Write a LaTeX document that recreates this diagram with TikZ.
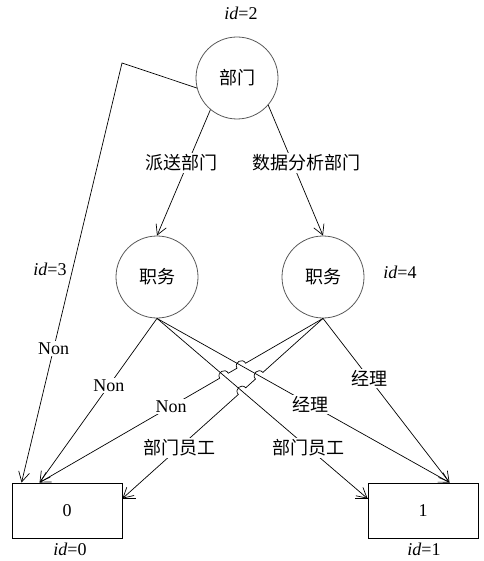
\documentclass[tikz,border=0pt]{standalone}
\usepackage{fontspec}
\setmainfont{Liberation Serif}
\newfontfamily\cjk{Noto Sans CJK SC}
\usetikzlibrary{arrows.meta,calc,intersections}
\begin{document}
\begin{tikzpicture}[x=1pt,y=-1pt,
  font=\fontsize{18pt}{20pt}\selectfont,
  circ/.style={circle,draw=black!65,line width=0.8pt,minimum size=82pt,inner sep=0pt,font={\cjk\fontsize{18pt}{20pt}\selectfont}},
  leaf/.style={rectangle,draw,line width=0.9pt,minimum width=110pt,minimum height=55pt,inner sep=0pt},
  conn/.style={line width=0.7pt},
  arr/.style={conn,-{Straight Barb[length=10pt,width=11pt]}},
  lab/.style={fill=white,inner sep=1.5pt},
  cjklab/.style={lab,font={\cjk\fontsize{18pt}{20pt}\selectfont}},
  hop/.style={bend right=90,looseness=1.7}]
\useasboundingbox (0,0) rectangle (483,561);
% nodes
\node[circ] (T) at (237,78) {部门};
\node[circ] (A) at (157,277) {职务};
\node[circ] (B) at (323,277) {职务};
\node[leaf] (b0) at (67,510.5) {0};
\node[leaf] (b1) at (423,510.5) {1};
% id labels
\node (i2) at (241,13) {\textit{id}=2};
\node (i3) at (50,269) {\textit{id}=3};
\node (i4) at (400,272) {\textit{id}=4};
\node (i0) at (70,549) {\textit{id}=0};
\node (i1) at (424,549) {\textit{id}=1};
% helper coordinates
\coordinate (k) at (122,63);
\coordinate (t0a) at ($(b0.north west)+(10,0)$);
\coordinate (t0b) at ($(b0.north west)+(28,0)$);
\coordinate (e0) at ($(b0.north east)+(0,16)$);
\coordinate (t1) at ($(b1.north west)+(82,0)$);
\coordinate (w1) at ($(b1.north west)+(0,16)$);
% top connectors
\draw[arr] (T.194) -- (k) -- node[lab,pos=0.68]{Non} (t0a);
\draw[arr] (T.230) -- (A.north);
\draw[arr] (T.319) -- (B.north);
\node[cjklab] (l1) at (181,163) {派送部门};
\node[cjklab] (l2) at (306,163) {数据分析部门};
% lower connectors from left
\draw[arr,name path=L1] (A.south) -- node[lab,pos=0.41]{Non} (t0b);
\draw[arr,name path=L2] (A.south) -- node[cjklab,pos=0.524]{经理} (t1);
\draw[arr,name path=L3] (A.south) -- node[cjklab,pos=0.718]{部门员工} (w1);
\draw[conn] (w1) -- ++(-13,0);
% lower connectors from right
\draw[arr] (B.south) -- node[cjklab,pos=0.367]{经理} (t1);
\path[name path=R2] (B.south) -- (t0b);
\path[name path=R3] (B.south) -- (e0);
\path[name intersections={of=R2 and L2, by=x22}];
\path[name intersections={of=R2 and L3, by=x23}];
\path[name intersections={of=R3 and L2, by=x32}];
\path[name intersections={of=R3 and L3, by=x33}];
\draw[arr] (B.south) -- ($(x22)!5pt!(B.south)$) to[hop] ($(x22)!5pt!(t0b)$)
  -- ($(x23)!5pt!(B.south)$) to[hop] ($(x23)!5pt!(t0b)$) -- (t0b);
\draw[arr] (B.south) -- ($(x32)!5pt!(B.south)$) to[hop] ($(x32)!5pt!(e0)$)
  -- ($(x33)!5pt!(B.south)$) to[hop] ($(x33)!5pt!(e0)$) -- (e0);
\draw[conn] (e0) -- ++(14,0);
\path (B.south) -- node[lab,pos=0.536]{Non} (t0b);
\path (B.south) -- node[cjklab,pos=0.718]{部门员工} (e0);
\end{tikzpicture}
\end{document}
